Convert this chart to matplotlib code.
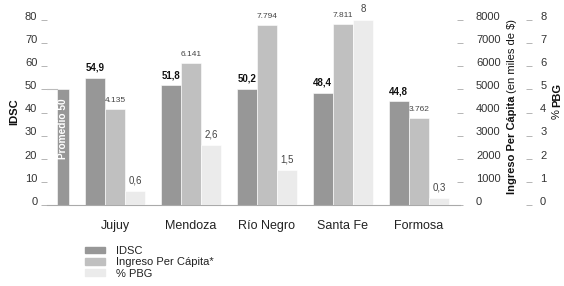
import matplotlib
matplotlib.use("Agg")
import matplotlib.pyplot as plt
from matplotlib.transforms import ScaledTranslation
from matplotlib.patches import Patch
import numpy as np

plt.rcParams['font.family'] = ['Liberation Sans', 'DejaVu Sans']

# --- DATOS ---
provincias = ['Jujuy', 'Mendoza', 'Río Negro', 'Santa Fe', 'Formosa']
idsc = [54.9, 51.8, 50.2, 48.4, 44.8]
ingreso = [4135, 6141, 7794, 7811, 3762]
pbg = [0.6, 2.6, 1.5, 8, 0.3]
idsc_lbl = ['54,9', '51,8', '50,2', '48,4', '44,8']
ingreso_lbl = ['4.135', '6.141', '7.794', '7.811', '3.762']
pbg_lbl = ['0,6', '2,6', '1,5', '8', '0,3']
promedio = 50

C_IDSC = '#979797'
C_ING = '#c0c0c0'
C_PBG = '#ebebeb'
TXT = '#333333'

W, H = 564, 286
fig = plt.figure(figsize=(W / 100, H / 100), dpi=100)
ax = fig.add_axes([47 / W, 1 - 205 / H, (460 - 47) / W, (205 - 20) / H])
ax2 = ax.twinx()
ax3 = ax.twinx()

x = np.arange(1, len(provincias) + 1)
bw = 0.265

ax.bar(x - bw, idsc, bw, color=C_IDSC, edgecolor='white', linewidth=0.4)
ax2.bar(x, ingreso, bw, color=C_ING, edgecolor='white', linewidth=0.4)
ax3.bar(x + bw, pbg, bw, color=C_PBG, edgecolor='white', linewidth=0.4)

# barra del promedio
xp = 1 - 0.685
pw = 0.16
ax.bar([xp], [promedio], pw, color=C_IDSC, edgecolor='white', linewidth=0.4)
ax.plot([0.105, xp - pw / 2], [promedio, promedio], color='#bbbbbb', lw=0.8)
ax.text(xp, promedio * 0.66, f'Promedio {promedio}', rotation=90, ha='center',
        va='center', color='white', fontsize=7.3, fontweight='bold')

# etiquetas de valores
for xi, v, s in zip(x, idsc, idsc_lbl):
    ax.text(xi - bw, v + 2.2, s, ha='center', va='bottom', fontsize=7,
            fontweight='bold', color='#111111')
for xi, v, s in zip(x, ingreso, ingreso_lbl):
    ax2.text(xi, v + 220, s, ha='center', va='bottom', fontsize=6,
             color='#444444')
for xi, v, s in zip(x, pbg, pbg_lbl):
    ax3.text(xi + bw, v + 0.25, s, ha='center', va='bottom', fontsize=7,
             color='#444444')

ax.set_xlim(0.105, 5.54)
ax.set_ylim(0, 80)
ax2.set_ylim(0, 8000)
ax3.set_ylim(0, 8)

ax.set_yticks(range(0, 81, 10))
ax2.set_yticks(range(0, 8001, 1000))
ax3.set_yticks(range(0, 9, 1))
ax.set_xticks(x)
ax.set_xticklabels(provincias, fontsize=9, color='#222222')
ax.tick_params(axis='x', length=0, pad=11)

for a in (ax, ax2, ax3):
    for sp in a.spines.values():
        sp.set_visible(False)
ax.spines['bottom'].set_visible(True)
ax.spines['bottom'].set_color('#aaaaaa')
ax.spines['bottom'].set_linewidth(0.8)

ax.tick_params(axis='y', length=4, width=0.6, color='#aaaaaa', pad=3,
               labelsize=8, labelcolor=TXT)
ax2.tick_params(axis='y', length=5, width=0.6, color='#aaaaaa', pad=9,
                labelsize=8, labelcolor=TXT, direction='inout')
ax3.spines['right'].set_position(('axes', (529 - 47) / (460 - 47)))
ax3.tick_params(axis='y', length=4, width=0.6, color='#aaaaaa', pad=6,
                labelsize=8, labelcolor=TXT, direction='inout')

# subir un poco las etiquetas de los ejes y
off = ScaledTranslation(0, 3 / 72, fig.dpi_scale_trans)
for a in (ax, ax2, ax3):
    for lab in a.get_yticklabels():
        lab.set_transform(lab.get_transform() + off)

fig.text(14 / W, 1 - 112 / H, 'IDSC', rotation=90, ha='center', va='center',
         fontsize=8, fontweight='bold', color='#111111')


def etiqueta_mixta(xpx, ypx_bottom, partes):
    fig.canvas.draw()
    r = fig.canvas.get_renderer()
    y = 1 - ypx_bottom / H
    for texto, peso in partes:
        t = fig.text(xpx / W, y, texto, rotation=90, ha='center', va='bottom',
                     fontsize=8, fontweight=peso, color='#111111')
        bb = t.get_window_extent(r)
        y += (bb.height + 2) / H


etiqueta_mixta(512, 194, [('Ingreso Per Cápita', 'bold'),
                          ('(en miles de $)', 'normal')])
etiqueta_mixta(557, 119, [('%', 'normal'), ('PBG', 'bold')])

# leyenda
handles = [Patch(color=C_IDSC), Patch(color=C_ING), Patch(color=C_PBG)]
fig.legend(handles, ['IDSC', 'Ingreso Per Cápita*', '% PBG'],
           loc='upper left', bbox_to_anchor=(85 / W, 1 - 246 / H),
           frameon=False, fontsize=8, handlelength=1.8, handleheight=0.55,
           handletextpad=1.0, labelspacing=0.12, borderpad=0,
           borderaxespad=0, labelcolor='#222222')

fig.savefig('out.png', dpi=100)
